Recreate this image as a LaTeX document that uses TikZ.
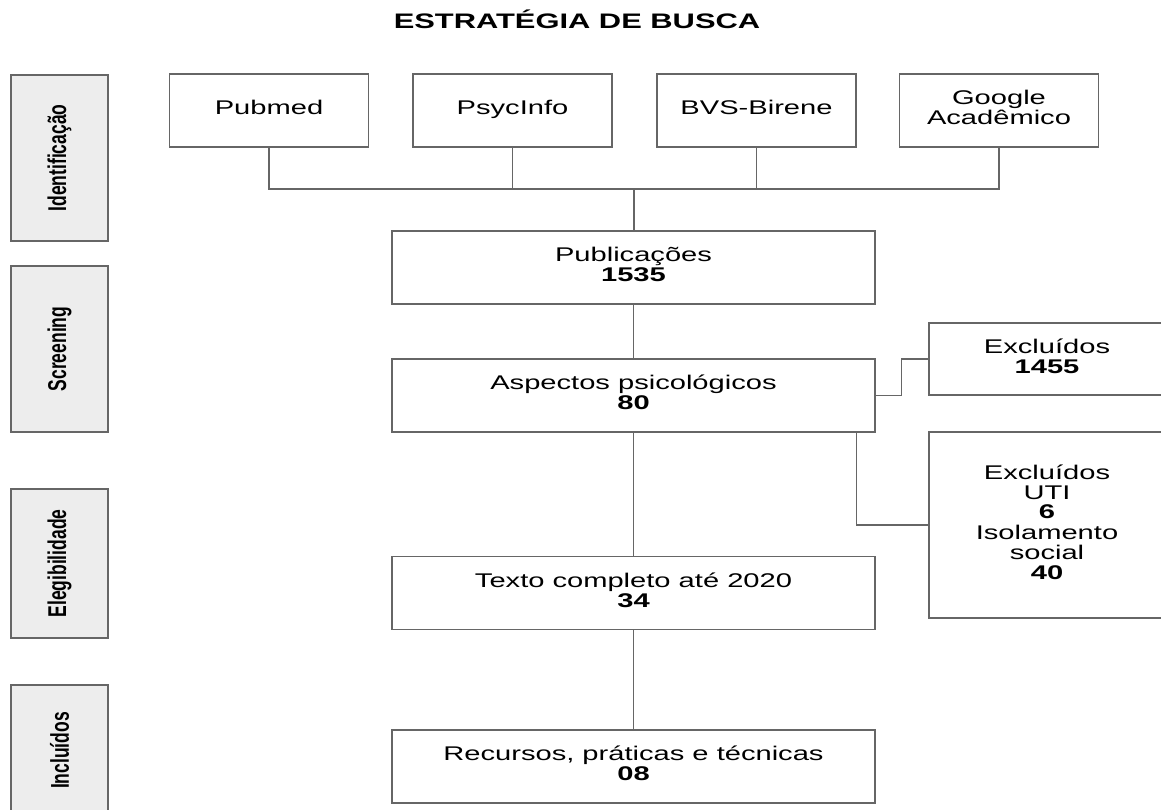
\documentclass[tikz,border=0pt]{standalone}
\usepackage{fontspec}
\setmainfont{Liberation Sans}
\usepackage{graphicx}
\newcommand{\esticar}[1]{\scalebox{1.47}[1]{\begin{tabular}{@{}c@{}}#1\end{tabular}}}
\newcommand{\etapa}[1]{\rotatebox{90}{\scalebox{1}[1.47]{\fontsize{17.5}{17.5}\selectfont\bfseries #1}}}

\begin{document}
\begin{tikzpicture}[x=1pt,y=-1pt]
      \tikzstyle{every node}=[font=\fontsize{19.8}{19.8}\selectfont,text=black,
			      inner sep=0pt]
      \tikzstyle{faixa}=[draw=black!60,line width=1.2pt,fill=black!7,minimum width=97pt]
      \tikzstyle{base}=[draw=black!60,line width=1.2pt,fill=white,
			      minimum width=199pt,minimum height=73pt]
      \tikzstyle{caixa}=[draw=black!60,line width=1.2pt,fill=white,
			      minimum width=483pt,minimum height=73pt]
      \tikzstyle{saida}=[draw=black!60,line width=1.2pt,fill=white,minimum width=236pt]
      \tikzstyle{liga}=[draw=black!60,line width=1.2pt]
      \useasboundingbox (0,0) rectangle (1161,809);
      \clip (0,0) rectangle (1161,809);
      \node (titulo) at (577,22) {\fontsize{21}{21}\selectfont\esticar{\textbf{ESTRATÉGIA DE BUSCA}}};
      % fases
      \node (ident) [faixa,minimum height=166pt] at (59.5,158) {\etapa{Identificação}};
      \node (screen) [faixa,minimum height=166pt] at (59.5,349) {\etapa{Screening}};
      \node (elegi) [faixa,minimum height=149pt] at (59.5,563.5) {\etapa{Elegibilidade}};
      \node (inclu) [faixa,minimum height=131pt] at (59.5,750.5) {\etapa{Incluídos}};
      % bases
      \node (pubmed) [base] at (269,110.5) {\esticar{Pubmed}};
      \node (psycinfo) [base] at (512.5,110.5) {\esticar{PsycInfo}};
      \node (bvs) [base] at (756.5,110.5) {\esticar{BVS-Birene}};
      \node (google) [base] at (999,110.5) {\esticar{Google\\Acadêmico}};
      % fluxo
      \node (publ) [caixa] at (633.5,267.5) {\esticar{Publicações\\\textbf{1535}}};
      \node (aspec) [caixa] at (633.5,395.5) {\esticar{Aspectos psicológicos\\\textbf{80}}};
      \node (texto) [caixa] at (633.5,593) {\esticar{Texto completo até 2020\\\textbf{34}}};
      \node (recur) [caixa] at (633.5,766.5) {\esticar{Recursos, práticas e técnicas\\\textbf{08}}};
      \node (excl1) [saida,minimum height=72pt] at (1047,359) {\esticar{Excluídos\\\textbf{1455}}};
      \node (excl2) [saida,minimum height=186pt] at (1047,525)
	  {\esticar{Excluídos\\UTI\\\textbf{6}\\Isolamento\\social\\\textbf{40}}};
      \coordinate (barra) at (634,189);
      \draw[liga] (pubmed.south) |- (barra) -| (google.south);
      \draw[liga] (psycinfo.south) -- (psycinfo.south |- barra);
      \draw[liga] (bvs.south) -- (bvs.south |- barra);
      \draw[liga] (barra) -- (barra |- publ.north);
      \draw[liga] (publ) -- (aspec);
      \draw[liga] (aspec) -- (texto);
      \draw[liga] (texto) -- (recur);
      \draw[liga] (aspec.east) -- ++(26,0) |- (excl1.west);
      \coordinate (desvio) at ([xshift=-19pt]aspec.south east);
      \draw[liga] (desvio) |- (excl2.west);
  \end{tikzpicture}
\end{document}
